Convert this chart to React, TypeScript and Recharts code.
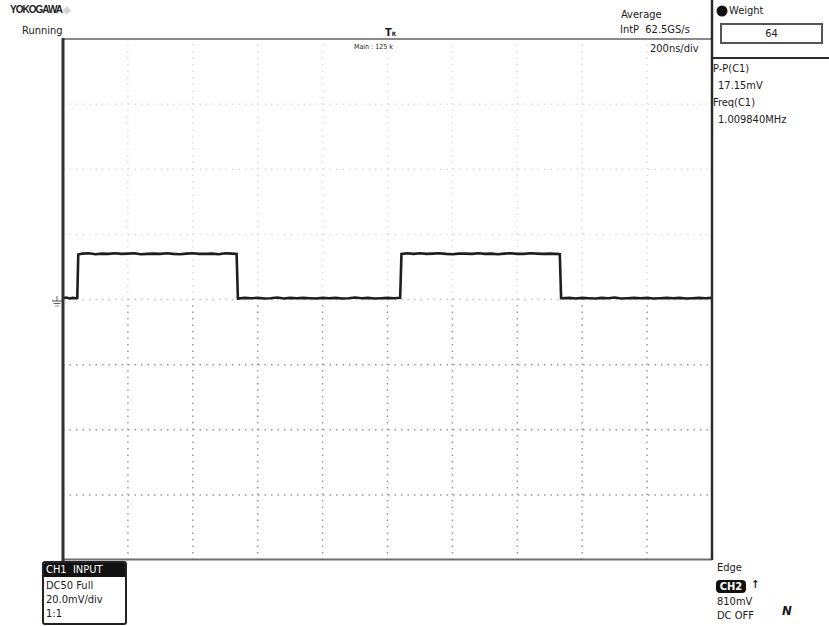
import React from "react";
import { LineChart, Line, XAxis, YAxis, ReferenceLine } from "recharts";

// time in ns (200 ns/div, 10 div), voltage in mV (20 mV/div, 8 div)
const timeNs = [
  0, 10, 20, 30, 40, 44,
  47, 60, 80, 100, 120, 140, 160, 180, 200, 220, 240, 260, 280, 300, 320, 340, 360, 380, 400, 420, 440, 460, 480, 500, 520, 535,
  539, 560, 580, 600, 620, 640, 660, 680, 700, 720, 740, 760, 780, 800, 820, 840, 860, 880, 900, 920, 940, 960, 980, 1000, 1020, 1039,
  1043, 1060, 1080, 1100, 1120, 1140, 1160, 1180, 1200, 1220, 1240, 1260, 1280, 1300, 1320, 1340, 1360, 1380, 1400, 1420, 1440, 1460, 1480, 1500, 1520, 1531,
  1535, 1560, 1580, 1600, 1620, 1640, 1660, 1680, 1700, 1720, 1740, 1760, 1780, 1800, 1820, 1840, 1860, 1880, 1900, 1920, 1940, 1960, 1980, 2000,
];
const voltMv = [
  0.4, 0.6, 0.3, 0.5, 0.4, 0.5,
  13.8, 14.1, 14.2, 13.9, 14.1, 14.0, 14.2, 14.0, 14.1, 14.2, 13.9, 14.0, 14.1, 14.0, 14.2, 14.0, 13.9, 14.1, 14.2, 14.0, 14.0, 14.1, 13.9, 14.2, 14.1, 14.0,
  0.3, 0.5, 0.4, 0.5, 0.3, 0.4, 0.6, 0.3, 0.5, 0.4, 0.5, 0.4, 0.3, 0.5, 0.4, 0.5, 0.3, 0.4, 0.6, 0.4, 0.5, 0.3, 0.4, 0.5, 0.4, 0.5,
  14.0, 14.2, 14.0, 14.2, 14.0, 14.1, 14.2, 14.0, 13.9, 14.1, 14.1, 14.0, 14.2, 14.0, 14.1, 13.9, 14.1, 14.2, 14.0, 14.0, 14.2, 14.1, 14.0, 14.1, 14.0, 13.9,
  0.4, 0.5, 0.3, 0.5, 0.4, 0.3, 0.5, 0.4, 0.6, 0.3, 0.4, 0.5, 0.4, 0.5, 0.3, 0.4, 0.5, 0.4, 0.5, 0.3, 0.4, 0.5, 0.4, 0.5,
];
const xGrid = [200, 400, 600, 800, 1000, 1200, 1400, 1600, 1800];
const yGridUpper = [20, 40, 60];
const yGridLower = [-20, -40, -60];

const data = timeNs.map((t, i) => ({ t, v: voltMv[i] }));

const font = "'DejaVu Sans Condensed', 'DejaVu Sans', sans-serif";

const T = ({ x, y, size = 11, children, style = {} }: any) => (
  <div
    style={{
      position: "absolute",
      left: x,
      top: y,
      fontSize: size,
      lineHeight: `${size + 2}px`,
      fontFamily: font,
      color: "#1a1a1a",
      whiteSpace: "nowrap",
      ...style,
    }}
  >
    {children}
  </div>
);

export default function App() {
  return (
    <div style={{ position: "absolute", left: 0, top: 0, width: 829, height: 626, background: "#fff", overflow: "hidden" }}>
      <div style={{ position: "absolute", left: 0, top: 0 }}>
        <LineChart width={829} height={626} data={data} margin={{ top: 39, right: 117, bottom: 66, left: 63 }}>
          <XAxis type="number" dataKey="t" domain={[0, 2000]} hide />
          <YAxis type="number" domain={[-80, 80]} hide />
          {xGrid.map((x) => (
            <ReferenceLine key={"vu" + x} segment={[{ x, y: 0 }, { x, y: 80 }]} stroke="#dedede" strokeDasharray="1.5 5" strokeWidth={1.5} />
          ))}
          {xGrid.map((x) => (
            <ReferenceLine key={"vl" + x} segment={[{ x, y: -80 }, { x, y: 0 }]} stroke="#9a9a9a" strokeDasharray="1.5 5" strokeWidth={1.5} />
          ))}
          {yGridUpper.map((y) => (
            <ReferenceLine key={"hu" + y} y={y} stroke="#dedede" strokeDasharray="1.5 5" strokeWidth={1.5} />
          ))}
          <ReferenceLine y={0} stroke="#c4c4c4" strokeDasharray="1.5 5" strokeWidth={1.5} />
          {yGridLower.map((y) => (
            <ReferenceLine key={"hl" + y} y={y} stroke="#9a9a9a" strokeDasharray="1.5 5" strokeWidth={1.5} />
          ))}
          <Line type="linear" dataKey="v" stroke="#1e1e1e" strokeWidth={2.6} dot={false} isAnimationActive={false} />
        </LineChart>
      </div>

      {/* frame */}
      <svg width={829} height={626} style={{ position: "absolute", left: 0, top: 0, pointerEvents: "none" }}>
        <line x1={63} y1={39} x2={712} y2={39} stroke="#8a8a8a" strokeWidth={2} />
        <line x1={63} y1={559.5} x2={712} y2={559.5} stroke="#6e6e6e" strokeWidth={2} />
        <line x1={63} y1={38} x2={63} y2={562} stroke="#333" strokeWidth={3} />
        <line x1={712} y1={0} x2={712} y2={560} stroke="#2a2a2a" strokeWidth={2.5} />
        <line x1={712} y1={58} x2={829} y2={58} stroke="#2a2a2a" strokeWidth={2} />
        {/* ground marker */}
        <line x1={52} y1={301} x2={62} y2={301} stroke="#444" strokeWidth={1} />
        <line x1={53.5} y1={303.5} x2={60.5} y2={303.5} stroke="#666" strokeWidth={1} />
        <line x1={55} y1={306} x2={59} y2={306} stroke="#888" strokeWidth={1} />
        <line x1={57} y1={296} x2={57} y2={301} stroke="#666" strokeWidth={1} />
        {/* weight bullet */}
        <circle cx={722} cy={11} r={5.5} fill="#111" />
      </svg>

      <T x={10} y={4} size={10} style={{ fontWeight: "bold", letterSpacing: -1, fontFamily: "'Liberation Sans', sans-serif" }}>
        YOKOGAWA <span style={{ color: "#d5d5d5" }}>◆</span>
      </T>
      <T x={22} y={24}>Running</T>

      <T x={385} y={26} size={11} style={{ fontWeight: "bold" }}>T<span style={{ fontSize: 6 }}>R</span></T>
      <T x={354} y={43} size={7}>Main : 125 k</T>

      <T x={621} y={8}>Average</T>
      <T x={620} y={23}>IntP&nbsp; 62.5GS/s</T>
      <T x={650} y={42}>200ns/div</T>

      <T x={729} y={4}>Weight</T>
      <div
        style={{
          position: "absolute",
          left: 720,
          top: 23,
          width: 99,
          height: 17,
          border: "2px solid #555",
          fontFamily: font,
          fontSize: 11,
          lineHeight: "17px",
          textAlign: "center",
          color: "#1a1a1a",
        }}
      >
        64
      </div>

      <T x={713} y={62}>P-P(C1)</T>
      <T x={718} y={79}>17.15mV</T>
      <T x={713} y={96}>Freq(C1)</T>
      <T x={718} y={113}>1.009840MHz</T>

      {/* CH1 box */}
      <div
        style={{
          position: "absolute",
          left: 42,
          top: 561,
          width: 81,
          height: 60,
          border: "2px solid #222",
          borderRadius: 3,
          fontFamily: font,
          fontSize: 11,
          lineHeight: "14px",
          color: "#1a1a1a",
          overflow: "hidden",
        }}
      >
        <div style={{ background: "#111", color: "#fff", paddingLeft: 2, height: 14 }}>CH1&nbsp; INPUT</div>
        <div style={{ paddingLeft: 2, marginTop: 2 }}>DC50 Full</div>
        <div style={{ paddingLeft: 2 }}>20.0mV/div</div>
        <div style={{ paddingLeft: 2 }}>1:1</div>
      </div>

      {/* trigger info */}
      <T x={717} y={561}>Edge</T>
      <div
        style={{
          position: "absolute",
          left: 716,
          top: 580,
          width: 30,
          height: 13,
          background: "#111",
          color: "#fff",
          borderRadius: 4,
          fontFamily: font,
          fontSize: 11,
          lineHeight: "13px",
          textAlign: "center",
          fontWeight: "bold",
        }}
      >
        CH2
      </div>
      <T x={751} y={578} size={11} style={{ fontWeight: "bold" }}>↑</T>
      <T x={717} y={595}>810mV</T>
      <T x={717} y={609}>DC OFF</T>
      <T x={782} y={603} size={13} style={{ fontStyle: "italic", fontWeight: "bold" }}>N</T>
    </div>
  );
}
